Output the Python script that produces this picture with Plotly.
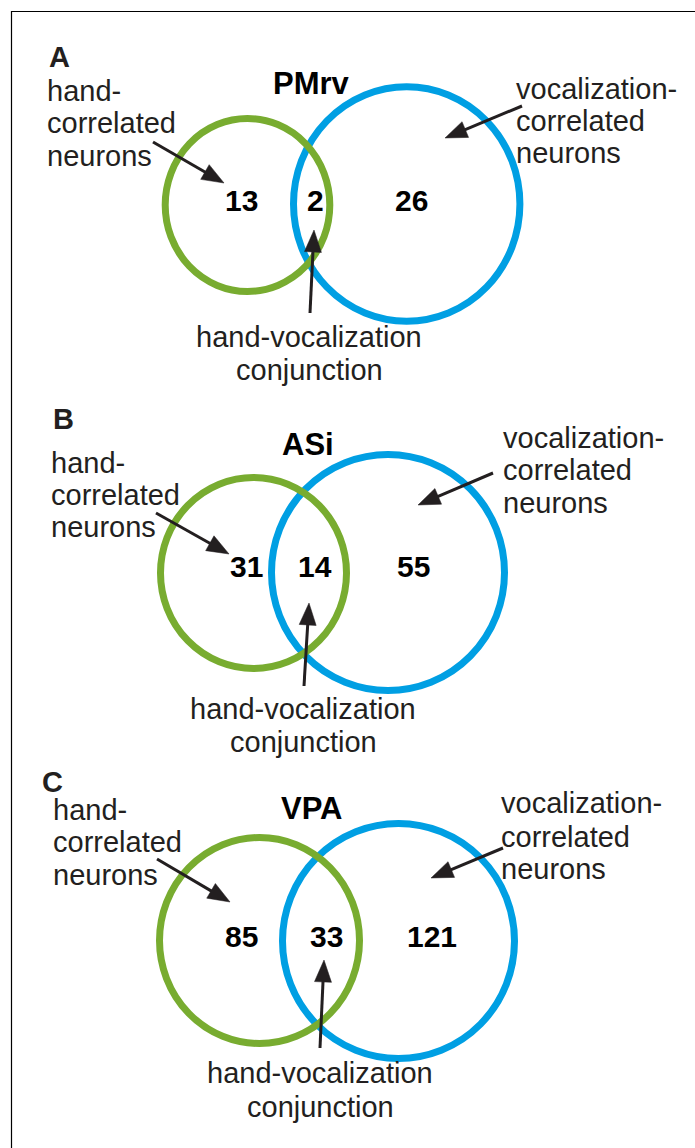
import math
import plotly.graph_objects as go

# ---------------- data ----------------
panel_letters = ["A", "B", "C"]
regions = ["PMrv", "ASi", "VPA"]
hand_only = [13, 31, 85]
conjunction = [2, 14, 33]
vocal_only = [26, 55, 121]
left_label = ["hand-", "correlated", "neurons"]
right_label = ["vocalization-", "correlated", "neurons"]
bottom_label = ["hand-vocalization", "conjunction"]

# ---------------- layout geometry (pixels) ----------------
geom = [
    dict(letter=(50, 67), region=(311, 94),
         green=(247.5, 205, 82.3, 86.5), blue=(406.7, 204, 113.2, 117.3),
         nums_x=(241.5, 315, 411.5), nums_base=211,
         left=(48, [101, 133, 166]), right=(517, [99, 131, 163]),
         bottom=(309, [347, 380]),
         arrows=[((153, 142), (224, 183)), ((310, 313), (314, 230)), ((522, 106), (445, 138))]),
    dict(letter=(54, 429), region=(307.5, 455),
         green=(253.5, 573, 93, 95.5), blue=(388, 572.5, 116.5, 118),
         nums_x=(246.5, 315, 413), nums_base=577,
         left=(52, [473, 505, 537]), right=(504, [448, 480, 513]),
         bottom=(303, [719, 752]),
         arrows=[((156, 513), (229, 554)), ((304, 686), (309, 603)), ((493, 473), (418, 505))]),
    dict(letter=(43, 792), region=(311.5, 819),
         green=(259.5, 940.5, 100, 103), blue=(398.5, 941, 116, 117.5),
         nums_x=(241, 326, 432), nums_base=947,
         left=(54, [820, 852, 885]), right=(502, [813, 847, 879]),
         bottom=(320, [1083, 1117]),
         arrows=[((157, 859), (230, 902)), ((320, 1048), (324, 960)), ((503, 848), (431, 878))]),
]

W, H = 695, 1148
FONT = "Liberation Sans, Arial, Helvetica, sans-serif"
GREEN = "#78ac30"
BLUE = "#009fe3"
TXT = "#231f20"
ARROW = "#231f20"
LABEL_SIZE = 29
NUM_SIZE = 30
REGION_SIZE = 31
LETTER_SIZE = 29


def mid(baseline, size):
    return baseline - 0.3465 * size


shapes = []
annotations = []

# outer frame
shapes.append(dict(type="rect", xref="x", yref="y", x0=11.5, y0=11.5, x1=W + 20, y1=H + 20,
                   line=dict(color="black", width=1.2), fillcolor="rgba(0,0,0,0)"))


def ann(text, x, baseline, size, color, bold=False, xanchor="left"):
    annotations.append(dict(
        text=f"<b>{text}</b>" if bold else text, x=x, y=mid(baseline, size), xref="x", yref="y",
        xanchor=xanchor, yanchor="middle", showarrow=False, borderpad=0, borderwidth=0,
        font=dict(family=FONT, size=size, color=color)))


for i, g in enumerate(geom):
    # circles
    for (cx, cy, rx, ry), col in ((g["blue"], BLUE), (g["green"], GREEN)):
        shapes.append(dict(type="circle", xref="x", yref="y", x0=cx - rx, x1=cx + rx,
                           y0=cy - ry, y1=cy + ry, line=dict(color=col, width=7),
                           fillcolor="rgba(0,0,0,0)"))
    # arrows (shaft + filled head)
    for (tx, ty), (hx, hy) in g["arrows"]:
        dx, dy = hx - tx, hy - ty
        d = math.hypot(dx, dy)
        ux, uy = dx / d, dy / d
        L, Wd = 22, 8.5
        bx, by = hx - ux * L, hy - uy * L
        shapes.append(dict(type="line", xref="x", yref="y", x0=tx, y0=ty, x1=bx + ux * 2, y1=by + uy * 2,
                           line=dict(color=ARROW, width=3)))
        px, py = -uy, ux
        path = (f"M{hx},{hy} L{bx + px * Wd},{by + py * Wd} "
                f"L{bx - px * Wd},{by - py * Wd} Z")
        shapes.append(dict(type="path", xref="x", yref="y", path=path,
                           line=dict(color=ARROW, width=0.5), fillcolor=ARROW))
    # texts
    ann(panel_letters[i], g["letter"][0] - 1, g["letter"][1], LETTER_SIZE, "#231f20", bold=True)
    ann(regions[i], g["region"][0], g["region"][1], REGION_SIZE, "#000000", bold=True, xanchor="center")
    for x, v in zip(g["nums_x"], (hand_only[i], conjunction[i], vocal_only[i])):
        ann(str(v), x, g["nums_base"], NUM_SIZE, "#000000", bold=True, xanchor="center")
    lx, lbs = g["left"]
    for t, b in zip(left_label, lbs):
        ann(t, lx - 1, b, LABEL_SIZE, TXT)
    rx_, rbs = g["right"]
    for t, b in zip(right_label, rbs):
        ann(t, rx_ - 1, b, LABEL_SIZE, TXT)
    bx_, bbs = g["bottom"]
    for t, b in zip(bottom_label, bbs):
        ann(t, bx_, b, LABEL_SIZE, TXT, xanchor="center")

fig = go.Figure()
fig.update_layout(
    width=W, height=H, autosize=False,
    margin=dict(l=0, r=0, t=0, b=0, pad=0),
    paper_bgcolor="white", plot_bgcolor="white",
    xaxis=dict(range=[0, W], visible=False, fixedrange=True),
    yaxis=dict(range=[H, 0], visible=False, fixedrange=True),
    shapes=shapes, annotations=annotations, showlegend=False,
)

fig.write_html("out.html", config={"displayModeBar": False},
               post_script="document.body.style.margin='0';document.body.style.overflow='hidden';")
